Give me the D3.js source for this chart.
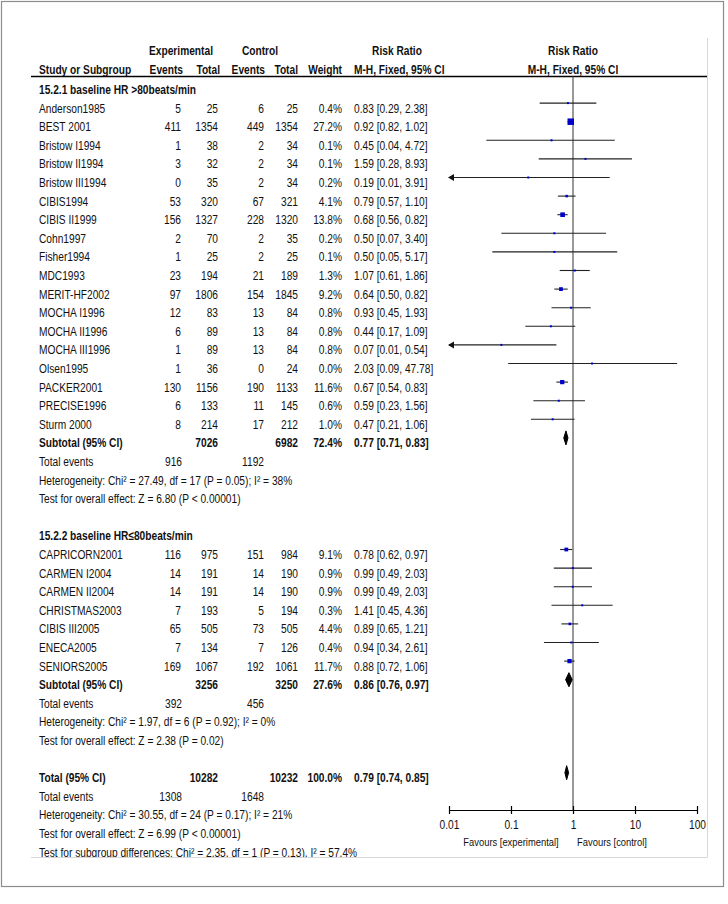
<!DOCTYPE html>
<html><head><meta charset="utf-8">
<script src="https://cdn.jsdelivr.net/npm/d3@7"></script>
<style>
body{margin:0;background:#fff}
svg text{font-family:"Liberation Sans Narrow","Arial Narrow","Liberation Sans",sans-serif;font-size:12.5px;fill:#111}
svg text.b{font-weight:bold}
</style>
</head><body>
<svg id="c" width="728" height="904"></svg>
<script>
// ---------- data ----------
const group1Title = "15.2.1 baseline HR >80beats/min";
const g1Names = ["Anderson1985","BEST 2001","Bristow I1994","Bristow II1994","Bristow III1994","CIBIS1994","CIBIS II1999","Cohn1997","Fisher1994","MDC1993","MERIT-HF2002","MOCHA I1996","MOCHA II1996","MOCHA III1996","Olsen1995","PACKER2001","PRECISE1996","Sturm 2000"];
const g1ExpEvents = [5,411,1,3,0,53,156,2,1,23,97,12,6,1,1,130,6,8];
const g1ExpTotal  = [25,1354,38,32,35,320,1327,70,25,194,1806,83,89,89,36,1156,133,214];
const g1CtlEvents = [6,449,2,2,2,67,228,2,2,21,154,13,13,13,0,190,11,17];
const g1CtlTotal  = [25,1354,34,34,34,321,1320,35,25,189,1845,84,84,84,24,1133,145,212];
const g1Weight    = [0.4,27.2,0.1,0.1,0.2,4.1,13.8,0.2,0.1,1.3,9.2,0.8,0.8,0.8,0.0,11.6,0.6,1.0];
const g1RR        = [0.83,0.92,0.45,1.59,0.19,0.79,0.68,0.50,0.50,1.07,0.64,0.93,0.44,0.07,2.03,0.67,0.59,0.47];
const g1Lo        = [0.29,0.82,0.04,0.28,0.01,0.57,0.56,0.07,0.05,0.61,0.50,0.45,0.17,0.01,0.09,0.54,0.23,0.21];
const g1Hi        = [2.38,1.02,4.72,8.93,3.91,1.10,0.82,3.40,5.17,1.86,0.82,1.93,1.09,0.54,47.78,0.83,1.56,1.06];
const g1Sub = {expTotal:7026, ctlTotal:6982, weight:72.4, rr:0.77, lo:0.71, hi:0.83, expEv:916, ctlEv:1192};
const g1Het = "Heterogeneity: Chi² = 27.49, df = 17 (P = 0.05); I² = 38%";
const g1Test = "Test for overall effect: Z = 6.80 (P < 0.00001)";

const group2Title = "15.2.2 baseline HR≤80beats/min";
const g2Names = ["CAPRICORN2001","CARMEN I2004","CARMEN II2004","CHRISTMAS2003","CIBIS III2005","ENECA2005","SENIORS2005"];
const g2ExpEvents = [116,14,14,7,65,7,169];
const g2ExpTotal  = [975,191,191,193,505,134,1067];
const g2CtlEvents = [151,14,14,5,73,7,192];
const g2CtlTotal  = [984,190,190,194,505,126,1061];
const g2Weight    = [9.1,0.9,0.9,0.3,4.4,0.4,11.7];
const g2RR        = [0.78,0.99,0.99,1.41,0.89,0.94,0.88];
const g2Lo        = [0.62,0.49,0.49,0.45,0.65,0.34,0.72];
const g2Hi        = [0.97,2.03,2.03,4.36,1.21,2.61,1.06];
const g2Sub = {expTotal:3256, ctlTotal:3250, weight:27.6, rr:0.86, lo:0.76, hi:0.97, expEv:392, ctlEv:456};
const g2Het = "Heterogeneity: Chi² = 1.97, df = 6 (P = 0.92); I² = 0%";
const g2Test = "Test for overall effect: Z = 2.38 (P = 0.02)";

const totalSum = {expTotal:10282, ctlTotal:10232, weight:100.0, rr:0.79, lo:0.74, hi:0.85, expEv:1308, ctlEv:1648};
const totHet = "Heterogeneity: Chi² = 30.55, df = 24 (P = 0.17); I² = 21%";
const totTest = "Test for overall effect: Z = 6.99 (P < 0.00001)";
const totSubgroup = "Test for subgroup differences: Chi² = 2.35, df = 1 (P = 0.13), I² = 57.4%";

const tickValues = [0.01,0.1,1,10,100];
const tickLabels = ["0.01","0.1","1","10","100"];

// ---------- layout ----------
const SX = 0.815; // horizontal condensing (narrow font look)
const svg = d3.select("#c");
const x = d3.scaleLog().domain([0.01,100]).range([449,697]);
const rowY = i => 84.5 + 18.6*i;   // line (mark) y of row i
const base = i => rowY(i) + 9.5;   // text baseline
const col = {name:39, expEv:181, expTot:218, ctlEv:264, ctlTot:298, wt:342, ci:354};
const f2 = v => v.toFixed(2);
const ciText = (r,l,h) => `${f2(r)} [${f2(l)}, ${f2(h)}]`;

// outer frame
svg.append("rect").attr("x",1.5).attr("y",1.5).attr("width",722).attr("height",885)
  .attr("fill","none").attr("stroke","#8c8c8c").attr("stroke-width",1.2);
// inner frame (right & bottom edges)
svg.append("line").attr("x1",707.5).attr("x2",707.5).attr("y1",38).attr("y2",857.5).attr("stroke","#d8d8d8");
svg.append("line").attr("x1",31).attr("x2",707.5).attr("y1",857.5).attr("y2",857.5).attr("stroke","#d8d8d8");

svg.append("defs").append("clipPath").attr("id","clip")
  .append("rect").attr("x",0).attr("y",0).attr("width",707).attr("height",857);
const g = svg.append("g").attr("clip-path","url(#clip)");

function txt(xp, y, s, anchor, bold, size){
  const t = g.append("text").attr("transform",`translate(${xp},${y}) scale(${SX},1)`)
    .attr("text-anchor",anchor||"start")
    .attr("class",bold?"b":null).text(s);
  if (size) t.style("font-size", size+"px");
  return t;
}

// headers
txt(181, 55, "Experimental","middle",true);
txt(260, 55, "Control","middle",true);
txt(397, 55, "Risk Ratio","middle",true);
txt(573, 55, "Risk Ratio","middle",true);
txt(col.name, 73.5, "Study or Subgroup","start",true);
txt(col.expEv+2, 73.5, "Events","end",true);
txt(col.expTot+2, 73.5, "Total","end",true);
txt(col.ctlEv+1, 73.5, "Events","end",true);
txt(col.ctlTot, 73.5, "Total","end",true);
txt(col.wt, 73.5, "Weight","end",true);
txt(col.ci, 73.5, "M-H, Fixed, 95% CI","start",true);
txt(573, 73.5, "M-H, Fixed, 95% CI","middle",true);
g.append("line").attr("x1",31).attr("x2",707).attr("y1",76.5).attr("y2",76.5).attr("stroke","#000").attr("stroke-width",1.3);

// null line
g.append("line").attr("x1",x(1)).attr("x2",x(1)).attr("y1",76).attr("y2",810).attr("stroke","#333");

// build study rows
function studyRows(names, ee, et, ce, ct, w, rr, lo, hi, start){
  names.forEach((n,k)=>{
    const i = start + k;
    txt(col.name, base(i), n);
    txt(col.expEv, base(i), ee[k], "end");
    txt(col.expTot, base(i), et[k], "end");
    txt(col.ctlEv, base(i), ce[k], "end");
    txt(col.ctlTot, base(i), ct[k], "end");
    txt(col.wt, base(i), w[k].toFixed(1)+"%", "end");
    txt(col.ci, base(i), ciText(rr[k],lo[k],hi[k]));
    const y = rowY(i);
    const x1 = Math.max(x(lo[k]), x.range()[0]);
    const x2 = Math.min(x(hi[k]), x.range()[1]);
    g.append("line").attr("x1",x1).attr("x2",x2).attr("y1",y).attr("y2",y).attr("stroke","#222").attr("stroke-width",1.1);
    if (lo[k] <= 0.01) {
      g.append("path").attr("d",`M${x1-1},${y} L${x1+5},${y-3.5} L${x1+5},${y+3.5} Z`).attr("fill","#111");
    }
    const s = Math.max(2, 6.5*Math.sqrt(w[k]/27.2));
    g.append("rect").attr("x",x(rr[k])-s/2).attr("y",y-s/2).attr("width",s).attr("height",s).attr("fill","#0000cc");
  });
}
function diamond(i, d){
  const y = rowY(i);
  g.append("path").attr("d",`M${x(d.lo)},${y} L${x(d.rr)},${y-7} L${x(d.hi)},${y} L${x(d.rr)},${y+7} Z`)
    .attr("fill","#000").attr("stroke","#000").attr("stroke-width",1);
}
function summary(i, label, d){
  txt(col.name, base(i), label, "start", true);
  txt(col.expTot, base(i), d.expTotal, "end", true);
  txt(col.ctlTot, base(i), d.ctlTotal, "end", true);
  txt(col.wt, base(i), d.weight.toFixed(1)+"%", "end", true);
  txt(col.ci, base(i), ciText(d.rr,d.lo,d.hi), "start", true);
  diamond(i, d);
  txt(col.name, base(i+1), "Total events");
  txt(col.expEv+1, base(i+1), d.expEv, "end");
  txt(col.ctlEv, base(i+1), d.ctlEv, "end");
}

txt(col.name, base(0), group1Title, "start", true);
studyRows(g1Names,g1ExpEvents,g1ExpTotal,g1CtlEvents,g1CtlTotal,g1Weight,g1RR,g1Lo,g1Hi,1);
summary(19, "Subtotal (95% CI)", g1Sub);
txt(col.name, base(21), g1Het);
txt(col.name, base(22), g1Test);

txt(col.name, base(24), group2Title, "start", true);
studyRows(g2Names,g2ExpEvents,g2ExpTotal,g2CtlEvents,g2CtlTotal,g2Weight,g2RR,g2Lo,g2Hi,25);
summary(32, "Subtotal (95% CI)", g2Sub);
txt(col.name, base(34), g2Het);
txt(col.name, base(35), g2Test);

summary(37, "Total (95% CI)", totalSum);
txt(col.name, base(39), totHet);
txt(col.name, base(40), totTest);
txt(col.name, base(41), totSubgroup);

// axis
const ax = g.append("g").attr("transform","translate(0,810)")
  .call(d3.axisBottom(x).tickValues(tickValues).tickFormat((d,i)=>tickLabels[i]).tickSize(4).tickPadding(6.6).tickSizeOuter(0));
ax.attr("font-family",null).attr("font-size",null);
ax.select(".domain").attr("stroke","#000").attr("stroke-width",1.2);
ax.selectAll(".tick line").attr("y1",-4).attr("y2",4).attr("stroke","#000").attr("stroke-width",1.2);
ax.selectAll(".tick text").attr("fill","#111").attr("transform",`scale(${SX},1)`);

txt(511, 846, "Favours [experimental]", "middle", false, 11.5);
txt(612, 846, "Favours [control]", "middle", false, 11.5);
</script>
</body></html>
